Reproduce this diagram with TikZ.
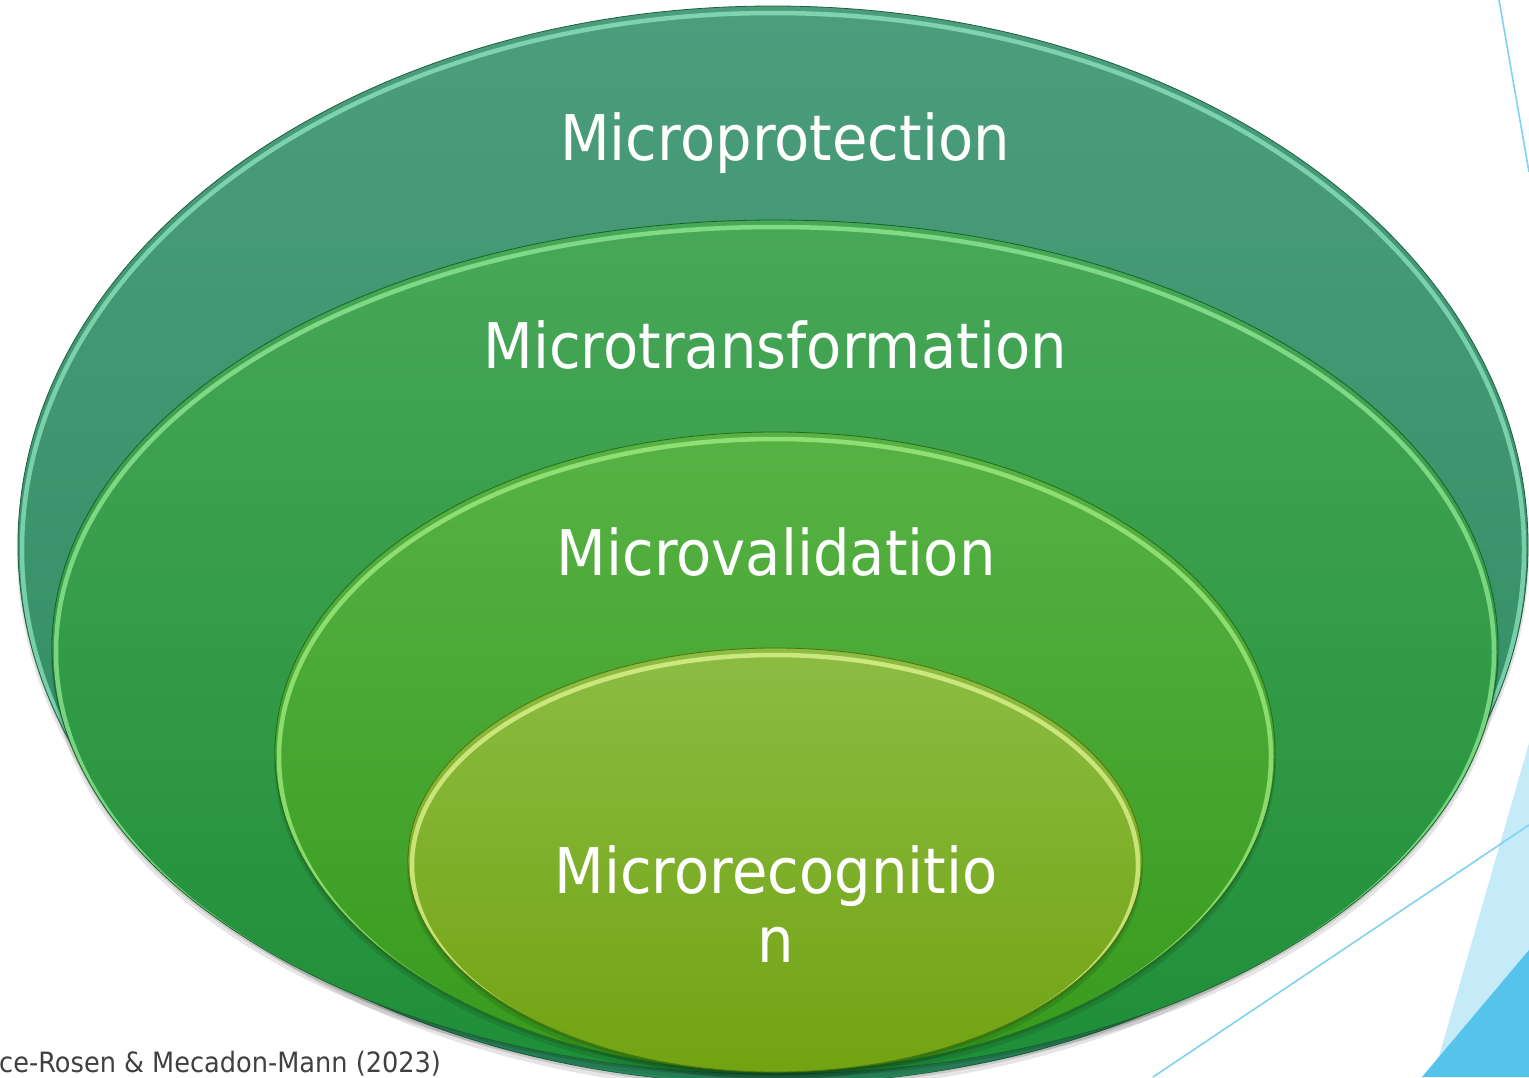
\documentclass[tikz,border=0pt]{standalone}
\usepackage{fontspec}
\setmainfont{DejaVu Sans}
\newfontfamily\labelfont[FakeStretch=0.915]{DejaVu Sans}

\definecolor{ringAtop}{HTML}{4C9D7D}
\definecolor{ringAbot}{HTML}{2A8A5C}
\definecolor{ringArim}{HTML}{9AF0CC}
\definecolor{ringBtop}{HTML}{48A858}
\definecolor{ringBbot}{HTML}{1F8E38}
\definecolor{ringBrim}{HTML}{A0F5A0}
\definecolor{ringCtop}{HTML}{57B245}
\definecolor{ringCbot}{HTML}{379A1C}
\definecolor{ringCrim}{HTML}{B0F890}
\definecolor{ringDtop}{HTML}{8CBC43}
\definecolor{ringDbot}{HTML}{72A312}
\definecolor{ringDrim}{HTML}{F0FFA0}
\definecolor{paleblue}{HTML}{C5EAF8}
\definecolor{deepblue}{HTML}{56C3EA}
\definecolor{lineblue}{HTML}{7FD3F0}
\definecolor{citegray}{HTML}{404040}

% one shaded oval: centre x, centre y, x radius, y radius, top, bottom, rim colour
\newcommand\ovalring[7]{%
  \fill[black,opacity=0.10] (#1,#2+7) ellipse [x radius=#3+1, y radius=#4];
  \fill[black,opacity=0.12] (#1,#2+3) ellipse [x radius=#3, y radius=#4];
  \shade[top color=#5, bottom color=#6] (#1,#2) ellipse [x radius=#3, y radius=#4];
  \begin{scope}
    \clip (#1,#2) ellipse [x radius=#3, y radius=#4];
    \draw[#7, line width=4.5, opacity=0.65] (#1,#2+5) ellipse [x radius=#3-4, y radius=#4-2];
  \end{scope}
  \draw[#6!70!black, line width=0.8] (#1,#2) ellipse [x radius=#3, y radius=#4];
}

\tikzset{
  lbl/.style={text=white, inner sep=0pt, anchor=base,
    font=\labelfont\fontsize{63}{69}\selectfont, align=center},
  cite/.style={text=citegray, inner sep=0pt, anchor=base west,
    font=\labelfont\fontsize{28}{34}\selectfont}
}

\begin{document}
\begin{tikzpicture}[x=1pt,y=-1pt]
  \useasboundingbox (0,0) rectangle (1529,1077);
  \clip (0,0) rectangle (1529,1077);
  \fill[white] (0,0) rectangle (1529,1077);

  % corner ornaments
  \fill[paleblue] (1433,1077) -- (1529,743) -- (1529,1077) -- cycle;
  \fill[deepblue] (1422,1077) -- (1529,950) -- (1529,1077) -- cycle;
  \draw[lineblue, line width=1.6] (1153,1077) -- (1529,825);
  \draw[lineblue, line width=1.6] (1499,0) -- (1529,172);

  % nested ovals, outermost first
  \ovalring{773}{545}{755}{539}{ringAtop}{ringAbot}{ringArim}
  \ovalring{775}{647}{723}{427}{ringBtop}{ringBbot}{ringBrim}
  \ovalring{775}{752}{500}{320}{ringCtop}{ringCbot}{ringCrim}
  \ovalring{775}{860}{367}{212}{ringDtop}{ringDbot}{ringDrim}

  % labels
  \node[lbl] (prot) at (785,160) {Microprotection};
  \node[lbl] (trans) at (775,368) {Microtransformation};
  \node[lbl] (valid) at (776,575) {Microvalidation};
  \node[lbl] (recog) at (776,962) {Microrecognitio\\n};

  \node[cite] (source) at (-1,1072) {ce-Rosen \& Mecadon-Mann (2023)};
\end{tikzpicture}
\end{document}
